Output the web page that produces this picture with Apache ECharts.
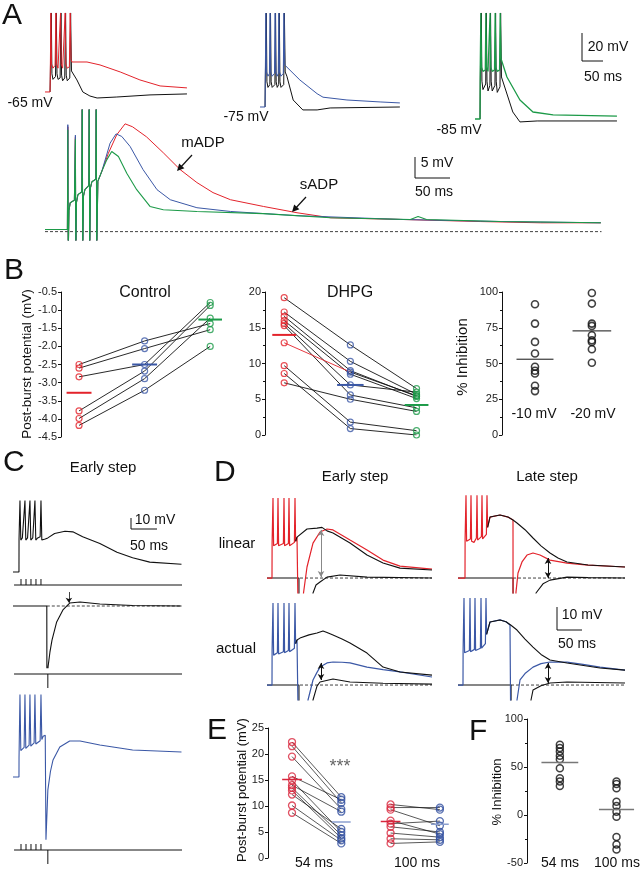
<!DOCTYPE html>
<html><head><meta charset="utf-8">
<script src="https://cdn.jsdelivr.net/npm/echarts@6/dist/echarts.min.js"></script>
<style>html,body{margin:0;padding:0;background:#fff}#c{width:642px;height:872px}</style>
</head><body><div id="c"></div><script>
const FONT='"Liberation Sans", Arial, Helvetica, sans-serif';
const RED='#e3232b', BLUE='#3b58a6', GREEN='#1c9a48', BLK='#111111';
const ERED='#d8263c', EBLUE='#2e4c9e', EBLUE_MEAN='#8b9fcf', GRAYM='#777777';

// ---------- Panel A: single traces (t in ms, V in mV) ----------
const a65Red=[[0,-65],[12,-65],[12.5,-54],[14,-8.6],[15.5,-45],[19,-48],[24,-46],[26,-8.6],[27.5,-45],[31,-48],[35,-47],[37,-8.6],[38.5,-45],[42,-48],[46,-47],[48,-8.6],[49.5,-45],[53,-48],[58,-47],[60,-8.6],[62,-42],[64,-43.6],[100,-43.6],[131,-45.7],[179,-50.7],[226,-56.4],[274,-60.7],[338,-62.1]];
const a65Blk=[[12,-65],[12.5,-56],[15,-8.6],[16.5,-52],[19,-56],[25,-54],[27,-8.6],[28.5,-52],[31,-56],[36,-55],[38,-8.6],[39.5,-53],[42,-57],[47,-55],[49,-8.6],[50.5,-53],[53,-57],[59,-55],[61,-8.6],[63,-50],[76,-56.4],[90,-65],[107,-67.9],[124,-69.3],[171,-68.6],[250,-67.1],[338,-66.4]];
const a75Blue=[[0,-75],[12,-75],[12.5,-57],[14,-7.9],[15.5,-50],[19,-53],[22.5,-51],[24,-7.9],[25.5,-50],[29,-53],[34.5,-51],[36,-7.9],[37.5,-50],[41,-53],[43.5,-51],[45,-7.9],[46.5,-50],[50,-53],[55.5,-51],[57,-7.9],[59,-45],[62,-46.4],[95,-55.7],[136,-65.5],[150,-68],[207,-70],[286,-71.4],[333,-72.1]];
const a75Blk=[[12,-75],[12.5,-58],[15,-7.9],[16.5,-57],[19,-61],[23.5,-59],[25,-7.9],[26.5,-57],[29,-61],[35.5,-59],[37,-7.9],[38.5,-57],[41,-61],[44.5,-59],[46,-7.9],[47.5,-57],[50,-61],[56.5,-59],[58,-7.9],[60,-50],[64,-53],[79,-70],[102,-77.1],[136,-77.1],[167,-75.7],[333,-75]];
const a85Green=[[0,-85],[12,-85],[12.5,-48],[14,-9.3],[15.5,-48],[19,-51],[24.5,-50],[26,-9.3],[27.5,-48],[31,-51],[34.5,-50],[36,-9.3],[37.5,-48],[41,-51],[46.5,-50],[48,-9.3],[49.5,-48],[53,-51],[58.5,-50],[60,-9.3],[62,-42],[64,-42.9],[76,-55],[107,-71.4],[138,-80],[186,-82.1],[338,-82.9]];
const a85Blk=[[12,-85],[12.5,-58],[15,-9.3],[16.5,-58],[19,-64],[25.5,-60],[27,-9.3],[28.5,-58],[31,-65],[35.5,-61],[37,-9.3],[38.5,-58],[41,-65],[47.5,-61],[49,-9.3],[50.5,-58],[53,-66],[59.5,-62],[61,-9.3],[63,-55],[67,-56.4],[90,-80],[107,-87.1],[148,-86.4],[338,-86.4]];

// ---------- Panel A: overlay (mV above rest) ----------
const ovRed=[[0,0.5],[32,0.5],[32.6,25],[33.2,-6],[34.2,5],[36,6.9],[42,7.5],[43.4,22.5],[44,-6],[45,7],[47,8.8],[52.6,9.5],[53.2,40],[53.8,-6],[55,8.5],[57,10],[62.6,11],[63.2,40],[63.8,-6],[65,10.5],[67,11.9],[72.6,12.5],[73.2,40],[73.8,-6],[75.5,12],[81,14.3],[90.6,18.7],[102.5,23.1],[114.4,25.7],[125,25],[145,22.6],[169,18.8],[193,14.8],[217,11.7],[240,9.3],[265,7.6],[312,6.0],[360,4.5],[408,3.3],[508,2.9],[622,2.4],[708,2.1],[794,2.1]];
const ovBlue=[[0,0.5],[32,0.5],[32.6,25.5],[33.2,-6],[34.2,5],[36,6.9],[42,7.5],[43.4,23],[44,-6],[45,7],[47,8.8],[52.6,9.5],[53.2,40],[53.8,-6],[55,8.5],[57,10],[62.6,11],[63.2,40],[63.8,-6],[65,10.5],[67,11.9],[72.6,12.5],[73.2,40],[73.8,-6],[75.5,12],[81,14.3],[93,21.1],[101.5,23.3],[109.6,22.7],[121.6,20.3],[140,14.8],[160,10],[179,7.6],[217,5.7],[265,4.8],[360,3.8],[508,2.9],[651,2.4],[794,2.1]];
const ovGreen=[[0,0.5],[32,0.5],[32.6,24.3],[33.2,-6],[34.2,5],[36,6.9],[42,7.5],[43.4,22],[44,-6],[45,7],[47,8.8],[52.6,9.5],[53.2,40],[53.8,-6],[55,8.5],[57,10],[62.6,11],[63.2,40],[63.8,-6],[65,10.5],[67,11.9],[72.6,12.5],[73.2,40],[73.8,-6],[75.5,12],[81,14.3],[88.2,17.1],[95.3,19.1],[104.9,17.9],[116.8,13.9],[131,10],[150,6],[169,5.2],[217,4.8],[312,4.3],[408,3.3],[522,2.9],[533,3.6],[545,2.9],[651,2.4],[794,2.1]];
const ovRest=[[0,0],[795,0]];

// ---------- Panel B ----------
const ctrlRed=[-2.50,-2.60,-2.84,-3.78,-3.99,-4.18];
const ctrlBlue=[-1.85,-2.06,-2.50,-2.68,-2.89,-3.21];
const ctrlGreen=[-1.37,-1.54,-0.79,-0.87,-1.22,-2.00];
const ctrlMeans=[-3.28,-2.50,-1.26];
const dhpgRed=[19.2,17.2,16.6,16.0,15.6,15.3,12.9,9.7,8.6,7.3];
const dhpgBlue=[12.6,10.3,9.0,8.5,7.0,5.6,8.8,1.8,0.9,5.0];
const dhpgGreen=[6.5,5.7,5.4,5.1,6.0,3.8,5.5,0.6,0.0,3.3];
const dhpgMeans=[14.0,7.0,4.2];
const dhpgRedLinkSubjects=[6];
const inhMinus10=[91.4,77.9,65.1,57.0,47.7,44.9,43.0,34.4,30.7];
const inhMinus20=[99.3,91.9,77.9,76.3,69.8,66.3,65.1,60.0,50.5];
const inhMeans=[53.0,72.8];
const inhCats=['-10 mV','-20 mV'];

// ---------- Panel C ----------
const cBurst=[[0,0],[11.5,0],[11.6,30],[13.4,65],[15,29],[18,31],[21.4,32],[23,65],[24.6,29],[28,31],[31,32],[32.6,65],[34.2,29],[38,31],[40.6,32],[42.2,65],[43.8,29],[47.5,31],[52.2,32],[53.8,65],[55.4,29],[62,30],[67,31],[80,35],[100,37],[115,36.5],[134,32],[167,26],[200,18],[230,13],[263,9],[324,7]];
const cStep=[[0,0],[65,0],[65.2,-75],[66.5,-75],[67.5,-55],[71,-42],[75,-31],[84,-14.5],[96,-3.6],[109,2.7],[129,3.6],[167,1.8],[230,0.5],[324,0]];
const cBoth=[[0,0],[11.5,0],[11.6,18],[13.4,75],[15,24],[18,25],[21.4,27],[23,75],[24.6,26],[28,27],[31,29],[32.6,75],[34.2,28],[38,29],[40.6,31],[42.2,75],[43.8,30],[47.5,31],[52.2,33],[53.8,75],[55.4,34],[58,37],[62,38],[63.4,-57],[64.5,-57],[66,-25],[67,-12],[72,5],[77,15.5],[90,27.3],[109,32.7],[129,32.7],[167,29.1],[230,24.5],[324,22.7]];
const cStimTimes=[15.4,25,34.6,44.2,53.8];
const cStepTime=[67];
const cStimSpan=[[2,0],[325,0]];

// ---------- Panel D ----------
const dElRed=[[0,0],[10,0],[10.2,15],[12,34.8],[13.2,14],[16,13.5],[20.8,15],[22,34.8],[23.2,14],[27,13.5],[32.8,15],[34,34.8],[35.2,14],[39,13.5],[42.8,15],[44,34.8],[45.2,14],[49,13.5],[54.8,15.5],[56,34.8],[57.2,16],[60,17.8],[63.8,17.6],[64,-40],[70,-40],[73,-6.5],[80,4.8],[92,15.2],[106,20],[120,21.3],[132,20.9],[166,16.5],[200,12.2],[232,7.8],[266,5.2],[330,3.9]];
const dElCtrl=[[57.2,16],[60,17.8],[64,17.8],[80,21.3],[100,21.7],[110,22],[120,20.5],[132,19.6],[166,15.2],[200,10],[232,6.5],[266,4.3],[330,3.5]];
const dElStep=[[0,0],[63.9,0],[64,-40],[86,-40],[92,-6.5],[98,-3],[106,-1.7],[120,0.4],[146,1.3],[200,0.4],[330,0]];
const dLlRed=[[0,0],[14,0],[14.2,17],[16,36],[17.2,16],[20,15.5],[24.8,17],[26,36],[27.2,16],[32,15.5],[36.8,17.4],[38,36],[39.2,16.5],[43,16],[46.8,18],[48,36],[49.2,17],[53,17],[56.8,19],[58,36],[59.2,22],[64,26.5],[84,27.4],[100,26.5],[110,25.2],[110.2,-40],[114,-40],[116,-6],[120,2.2],[128,7],[138,10],[150,10.9],[164,10],[184,7.8],[218,6.5],[260,5.6],[334,4.8]];
const dLlCtrl=[[59.2,22],[64,26.5],[84,27.4],[100,26.5],[110,25.2],[118,23.9],[134,21],[150,17.4],[166,14],[184,10.9],[200,8.7],[218,7],[260,5.7],[334,4.8]];
const dLlStep=[[0,0],[110.1,0],[110.2,-40],[150,-40],[156,-6.5],[170,-2.5],[184,-0.9],[218,0.4],[260,0.2],[334,0]];
const dEaBlue=[[0,0],[10,0],[10.2,15],[12,35.7],[13.2,13],[16,12.5],[20.8,14],[22,35.7],[23.2,13.5],[27,13],[32.8,14.5],[34,35.7],[35.2,14],[39,13.5],[42.8,15],[44,35.7],[45.2,14.5],[49,14],[54.8,16],[56,35.7],[57.2,18],[60,19.6],[63.8,19.4],[64,-40],[76,-40],[82,-6.5],[92,2.2],[100,5.5],[106,7.8],[120,9.6],[132,10],[150,9.9],[166,9.6],[200,7.8],[232,6.7],[266,5.7],[330,3.5]];
const dEaCtrl=[[57.2,18],[60,19.6],[66,20.4],[84,21.8],[100,22.6],[112,23.5],[120,22.8],[132,21.7],[150,20],[166,18.3],[200,13.9],[232,7.8],[266,5.7],[330,4.3]];
const dEaStep=[[0,0],[63.9,0],[64,-40],[86,-40],[92,-6.5],[100,-0.5],[106,1.3],[132,2.6],[166,1.3],[232,0.8],[330,0.4]];
const dLaBlue=[[0,0],[10,0],[10.2,15],[12,37.8],[13.2,14],[16,13.5],[22.8,15],[24,37.8],[25.2,14.5],[28,14],[32.8,15.5],[34,37.8],[35.2,15],[39,14.5],[44.8,16],[46,37.8],[47.2,16],[51,16],[54.8,18],[56,37.8],[57.2,22],[64,27.4],[84,28.3],[96,27.5],[104,26.1],[106,26],[106.2,-40],[114,-40],[118,-6.5],[124,2.2],[134,5],[150,7.8],[166,9.3],[184,10],[218,10],[250,9],[284,7.8],[334,6.5]];
const dLaCtrl=[[57.2,22],[64,27.4],[84,28.3],[96,27.5],[106,26],[118,23.9],[134,20],[150,16.5],[166,13.3],[184,10.9],[218,9.6],[284,7.4],[334,6.5]];
const dLaStep=[[0,0],[106.1,0],[106.2,-40],[140,-40],[146,-6.5],[150,-2.2],[166,-0.3],[184,0.9],[218,1.3],[334,0.9]];
const dArrows={el:[108,20.9,0.4], ll:[180,8.7,0], ea:[108,9.6,2.2], la:[180,9.6,0.9]};

// ---------- Panel E / F ----------
const e54Red=[22.3,21.5,19.5,15.7,14.9,14.0,13.5,13.0,12.2,10.1,8.7];
const e54Blue=[11.7,10.6,9.4,11.2,5.0,8.9,4.4,3.8,5.6,3.4,2.8];
const e100Red=[10.3,9.7,9.3,7.2,6.6,6.0,4.8,3.7,2.8];
const e100Blue=[9.3,9.7,6.2,4.6,7.1,5.0,4.0,3.5,3.1];
const eMeans=[15.1,6.9,7.0,6.5];
const eCats=['54 ms','100 ms'];
const f54=[73.1,69.7,66.2,61.6,58.1,48.7,38.3,34.8,30.2];
const f100=[34.8,32.4,27.8,13.8,9.3,3.4,-1.8,-22.8,-30.8,-36.0];
const fMeans=[54.7,5.8];

// ================= builders =================
const grids=[], xAxes=[], yAxes=[], series=[], graphics=[];
function addGrid(g,x,y){grids.push(Object.assign({containLabel:false,show:false},g));const i=grids.length-1;
  xAxes.push(Object.assign({gridIndex:i,type:'value',show:false},x));
  yAxes.push(Object.assign({gridIndex:i,type:'value',show:false},y));return i;}
function trace(gi,data,color,lw,z,extra){series.push(Object.assign({type:'line',xAxisIndex:gi,yAxisIndex:gi,data,symbol:'none',showSymbol:false,lineStyle:{color,width:lw||1},itemStyle:{color},clip:true,z:z||2,silent:true,animation:false},extra||{}));}
function dots(gi,x,vals,color,size,bw){series.push({type:'scatter',xAxisIndex:gi,yAxisIndex:gi,data:vals.map(v=>[x,v]),symbol:'circle',symbolSize:size,itemStyle:{color:'rgba(255,255,255,0)',borderColor:color,borderWidth:bw},z:6,silent:true,animation:false});}
function meanLine(gi,x,hw,v,color,w){trace(gi,[[x-hw,v],[x+hw,v]],color,w,7);}
function ticks(gi,times,y0,y1){series.push({type:'custom',xAxisIndex:gi,yAxisIndex:gi,data:times.map(t=>[t,y0,y1]),clip:false,silent:true,animation:false,
  renderItem:(p,api)=>{const a=api.coord([api.value(0),api.value(1)]),b=api.coord([api.value(0),api.value(2)]);
    return {type:'line',shape:{x1:a[0],y1:a[1],x2:b[0],y2:b[1]},style:{stroke:BLK,lineWidth:1}};}});}
function hline(gi,span,dashed,color){trace(gi,span,color||BLK,dashed?0.8:1,1,dashed?{lineStyle:{color:color||BLK,width:0.8,type:[3,2]}}:{});}
function dArrow(gi,a,color){series.push({type:'line',xAxisIndex:gi,yAxisIndex:gi,data:[],silent:true,animation:false,
  markLine:{silent:true,animation:false,symbol:['arrow','arrow'],symbolSize:[5,6],label:{show:false},lineStyle:{color,width:1,type:'solid'},
  data:[[{coord:[a[0],a[1]]},{coord:[a[0],a[2]]}]]}});}
function dataY(extra){return Object.assign({show:true,axisLine:{show:true,lineStyle:{color:'#111',width:1}},
  axisTick:{show:true,inside:false,length:3,lineStyle:{color:'#111'}},
  axisLabel:{show:true,fontSize:11,color:'#222',margin:4,fontFamily:FONT},splitLine:{show:false}},extra);}
function txt(s,x,y,size,o){o=o||{};graphics.push({type:'text',x,y,rotation:o.rot||0,silent:true,z:100,
  style:{text:s,font:size+'px '+FONT,fill:o.color||'#111',textAlign:o.align||'center',align:o.align||'center',textVerticalAlign:'middle',verticalAlign:'middle'}});}
function pl(points,w){graphics.push({type:'polyline',silent:true,z:100,shape:{points},style:{stroke:'#111',lineWidth:w||1,fill:null}});}
function pg(points){graphics.push({type:'polygon',silent:true,z:100,shape:{points},style:{fill:'#111'}});}

// ---- A ----
const gA1=addGrid({left:45,top:5,width:147,height:135},{min:0,max:350},{min:-99.3,max:-2.9});
const gA2=addGrid({left:260,top:5,width:147,height:135},{min:0,max:350},{min:-98.6,max:-2.1});
const gA3=addGrid({left:475,top:5,width:147,height:135},{min:0,max:350},{min:-100,max:-3.6});
trace(gA1,a65Blk,BLK,1,2); trace(gA1,a65Red,RED,1,3);
trace(gA2,a75Blk,BLK,1,2); trace(gA2,a75Blue,BLUE,1,3);
trace(gA3,a85Blk,BLK,1,2); trace(gA3,a85Green,GREEN,1.3,3);
const gAo=addGrid({left:45,top:110,width:560,height:130},{min:0,max:800},{min:-2,max:29});
hline(gAo,ovRest,true);
trace(gAo,ovRed,RED,1,3); trace(gAo,ovBlue,BLUE,1,4); trace(gAo,ovGreen,GREEN,1.1,5);

// ---- B ----
const gB1=addGrid({left:61,top:292,width:182,height:145},{min:0.725,max:3.5},dataY({min:-4.5,max:-0.5,interval:0.5,axisLabel:{show:true,fontSize:11,color:'#222',margin:4,fontFamily:FONT,formatter:v=>v.toFixed(1)}}));
ctrlRed.forEach((_,i)=>trace(gB1,[[1,ctrlRed[i]],[2,ctrlBlue[i]],[3,ctrlGreen[i]]],BLK,0.9,4));
dots(gB1,1,ctrlRed,RED,6,1.2); dots(gB1,2,ctrlBlue,BLUE,6,1.2); dots(gB1,3,ctrlGreen,GREEN,6,1.2);
meanLine(gB1,1,0.19,ctrlMeans[0],RED,2); meanLine(gB1,2,0.19,ctrlMeans[1],BLUE,2); meanLine(gB1,3,0.18,ctrlMeans[2],GREEN,2);

const gB2=addGrid({left:265,top:292,width:178,height:143},{min:0.71,max:3.4},dataY({min:0,max:20,interval:5,minorTick:{show:true,splitNumber:2,length:2,lineStyle:{color:'#111'}}}));
dhpgRed.forEach((_,i)=>{
  if(dhpgRedLinkSubjects.includes(i)){trace(gB2,[[1,dhpgRed[i]],[2,dhpgBlue[i]]],RED,0.9,4);trace(gB2,[[2,dhpgBlue[i]],[3,dhpgGreen[i]]],BLK,0.9,4);}
  else trace(gB2,[[1,dhpgRed[i]],[2,dhpgBlue[i]],[3,dhpgGreen[i]]],BLK,0.9,4);});
dots(gB2,1,dhpgRed,RED,6,1.2); dots(gB2,2,dhpgBlue,BLUE,6,1.2); dots(gB2,3,dhpgGreen,GREEN,6,1.2);
meanLine(gB2,1,0.18,dhpgMeans[0],RED,2); meanLine(gB2,2,0.2,dhpgMeans[1],BLUE,2); meanLine(gB2,3,0.18,dhpgMeans[2],GREEN,2);

const gB3=addGrid({left:502,top:292,width:124,height:143},{min:0.42,max:2.6},dataY({min:0,max:100,interval:25,minorTick:{show:true,splitNumber:2,length:2,lineStyle:{color:'#111'}}}));
dots(gB3,1,inhMinus10,BLK,7,1.6); dots(gB3,2,inhMinus20,BLK,7,1.6);
meanLine(gB3,1,0.325,inhMeans[0],BLK,1); meanLine(gB3,2,0.34,inhMeans[1],BLK,1);

// ---- C ----
const gC1=addGrid({left:13,top:495,width:169,height:93.5},{min:0,max:325},{min:-15,max:70});
trace(gC1,cBurst,BLK,1.1,3);
const gC2=addGrid({left:13,top:590.6,width:169,height:77},{min:0,max:325},{min:-56,max:14});
hline(gC2,[[65,0],[324,0]],true);
trace(gC2,cStep,BLK,1.1,3);
series.push({type:'line',xAxisIndex:gC2,yAxisIndex:gC2,data:[],silent:true,animation:false,markLine:{silent:true,animation:false,symbol:['none','arrow'],symbolSize:5,label:{show:false},lineStyle:{color:BLK,width:0.8,type:'solid'},data:[[{coord:[107.5,12.7]},{coord:[107.5,2.9]}]]}});
const gC3=addGrid({left:13,top:689,width:169,height:154},{min:0,max:325},{min:-60,max:80});
trace(gC3,cBoth,BLUE,1.1,3);
[585,674,850].forEach((yl,k)=>{
  const g=addGrid({left:13,top:yl-6,width:169,height:20},{min:0,max:325},{min:-14,max:6});
  trace(g,cStimSpan,BLK,1,2);
  if(k!==1) ticks(g,cStimTimes,0,6);
  if(k!==0) ticks(g,cStepTime,0,-14);
});

// ---- D ----
const gDel=addGrid({left:267,top:492.9,width:165,height:100.1},{min:0,max:330},{min:-6.5,max:37});
const gDll=addGrid({left:458,top:492.9,width:167,height:100.1},{min:0,max:334},{min:-6.5,max:37});
const gDea=addGrid({left:267,top:597.6,width:165,height:102.4},{min:0,max:330},{min:-6.5,max:38});
const gDla=addGrid({left:458,top:597.6,width:167,height:102.4},{min:0,max:334},{min:-6.5,max:38});
hline(gDel,[[66,0],[330,0]],true); hline(gDll,[[110,0],[334,0]],true);
hline(gDea,[[66,0],[330,0]],true); hline(gDla,[[106,0],[334,0]],true);
trace(gDel,dElStep,BLK,1.1,2); trace(gDel,dElRed,RED,1.2,3); trace(gDel,dElCtrl,BLK,1.1,4);
trace(gDll,dLlStep,BLK,1.1,2); trace(gDll,dLlRed,RED,1.2,3); trace(gDll,dLlCtrl,BLK,1.1,4);
trace(gDea,dEaStep,BLK,1.1,2); trace(gDea,dEaBlue,BLUE,1.2,3); trace(gDea,dEaCtrl,BLK,1.1,4);
trace(gDla,dLaStep,BLK,1.1,2); trace(gDla,dLaBlue,BLUE,1.2,3); trace(gDla,dLaCtrl,BLK,1.1,4);
dArrow(gDel,dArrows.el,'#888'); dArrow(gDll,dArrows.ll,BLK); dArrow(gDea,dArrows.ea,BLK); dArrow(gDla,dArrows.la,BLK);

// ---- E ----
const gE=addGrid({left:268,top:728,width:191.6,height:130},{min:0.513,max:4.4},dataY({min:0,max:25,interval:5}));
e54Red.forEach((_,i)=>trace(gE,[[1,e54Red[i]],[2,e54Blue[i]]],BLK,0.7,4));
e100Red.forEach((_,i)=>trace(gE,[[3,e100Red[i]],[4,e100Blue[i]]],BLK,0.7,4));
dots(gE,1,e54Red,ERED,7,1.3); dots(gE,2,e54Blue,EBLUE,7,1.3); dots(gE,3,e100Red,ERED,7,1.3); dots(gE,4,e100Blue,EBLUE,7,1.3);
meanLine(gE,1,0.2,eMeans[0],ERED,1.5); meanLine(gE,2,0.19,eMeans[1],EBLUE_MEAN,1.5);
meanLine(gE,3,0.2,eMeans[2],ERED,1.5); meanLine(gE,4,0.18,eMeans[3],EBLUE_MEAN,1.5);

// ---- F ----
const gF=addGrid({left:527,top:719,width:115.7,height:144},{min:0.42,max:2.45},dataY({min:-50,max:100,interval:50,minorTick:{show:true,splitNumber:2,length:2,lineStyle:{color:'#111'}}}));
dots(gF,1,f54,BLK,7,1.5); dots(gF,2,f100,BLK,7,1.5);
meanLine(gF,1,0.325,fMeans[0],GRAYM,1.5); meanLine(gF,2,0.31,fMeans[1],GRAYM,1.5);

// ================= text & annotations =================
[['A',2,16],['B',4,271],['C',3,463],['D',214,473],['E',207,731],['F',469,732]].forEach(a=>txt(a[0],a[1],a[2],30,{align:'left'}));
txt('-65 mV',30,103,14); txt('-75 mV',246,117,14); txt('-85 mV',459,130,14);
pl([[582,33],[582,61],[603,61]]); txt('20 mV',608,47,14); txt('50 ms',603,77,14);
txt('mADP',203,143,15); txt('sADP',319,185,15);
pl([[192,155],[179,169]],1.2); pg([[177,171],[184.4,168.3],[179.2,163.5]]);
pl([[306,197],[294,210]],1.2); pg([[292,212],[299.4,209.3],[294.2,204.5]]);
pl([[415,157],[415,178],[450,178]]); txt('5 mV',437,163,14); txt('50 ms',434,192,14);
txt('Control',145,293,16); txt('DHPG',350,293,16);
txt('Post-burst potential (mV)',27,364,13.5,{rot:Math.PI/2});
txt('% Inhibition',463,357,15,{rot:Math.PI/2});
txt(inhCats[0],534,414,14); txt(inhCats[1],593,414,14);
txt('Early step',103,468,15);
pl([[131,518],[131,529],[157,529]]); txt('10 mV',155,520,14); txt('50 ms',149,546,14);
txt('Early step',355,477,15); txt('Late step',547,477,15);
txt('linear',237,544,15); txt('actual',236,649,15);
pl([[557,607],[557,630],[582,630]]); txt('10 mV',582,615,14); txt('50 ms',577,644,14);
txt('Post-burst potential (mV)',242,790,13,{rot:Math.PI/2});
txt('***',340,767,18,{color:'#666'});
txt(eCats[0],314,863,14); txt(eCats[1],417,863,14);
txt('% Inhibition',497,792,13,{rot:Math.PI/2});
txt(eCats[0],560,863,14); txt(eCats[1],617,863,14);

const chart=echarts.init(document.getElementById('c'),null,{renderer:'canvas',width:642,height:872});
chart.setOption({animation:false,backgroundColor:'#fff',textStyle:{fontFamily:FONT},grid:grids,xAxis:xAxes,yAxis:yAxes,series,graphic:{elements:graphics}});
</script></body></html>
